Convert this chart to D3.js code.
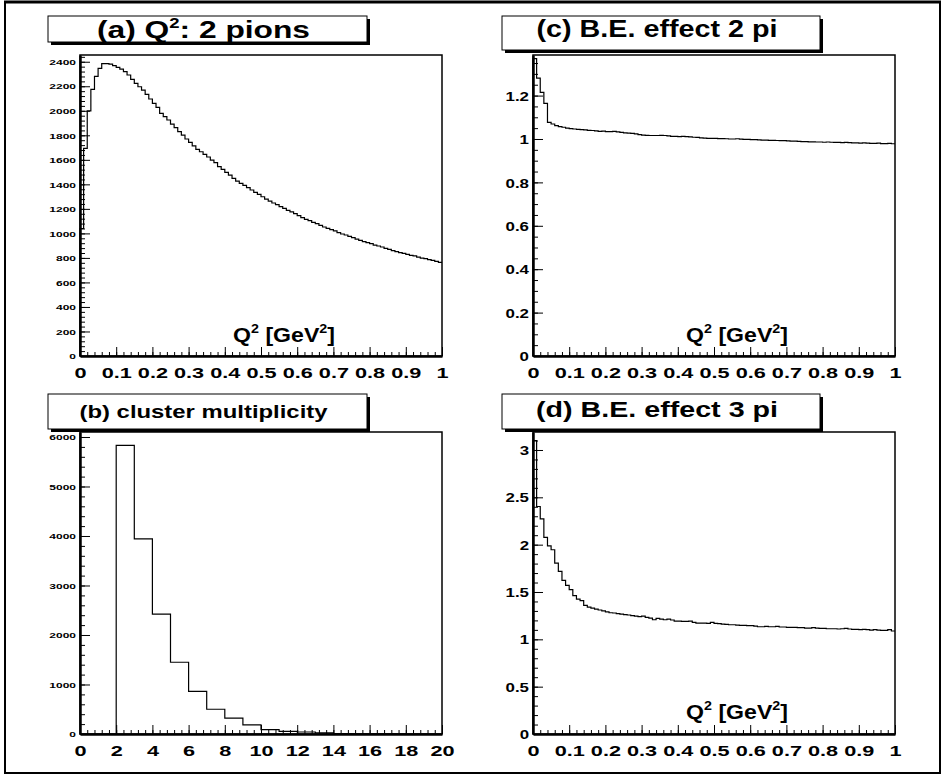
<!DOCTYPE html>
<html>
<head>
<meta charset="utf-8">
<script src="https://cdn.jsdelivr.net/npm/d3@7"></script>
<style>
  body { margin: 0; background: #fff; }
  svg { display: block; }
  text { font-family: "Liberation Sans", Arial, Helvetica, sans-serif; font-weight: bold; }
</style>
</head>
<body>
<div id="chart"></div>
<script>
// (a) Q^2 of pion pairs, 100 bins 0..1
const pionsQ2 = [
  1040, 1694, 2000, 2175, 2281, 2346, 2384, 2384, 2381, 2368,
  2354, 2340, 2319, 2292, 2256, 2224, 2196, 2169, 2134, 2096,
  2061, 2028, 1979, 1952, 1925, 1892, 1862, 1830, 1802, 1770,
  1742, 1713, 1685, 1666, 1645, 1623, 1598, 1577, 1544, 1522,
  1498, 1476, 1449, 1427, 1408, 1392, 1373, 1354, 1335, 1318,
  1299, 1280, 1264, 1248, 1234, 1218, 1204, 1188, 1175, 1161,
  1145, 1128, 1115, 1104, 1090, 1079, 1066, 1052, 1041, 1030,
  1020, 1006, 995, 987, 976, 965, 954, 943, 933, 924,
  916, 905, 897, 889, 878, 870, 859, 851, 843, 837,
  829, 821, 816, 807, 799, 794, 786, 780, 772, 764
];
// (b) cluster multiplicity, bins of width 1 from 0..20
const clusterCounts = [0, 0, 5830, 3940, 2420, 1450, 860, 500, 320, 185, 90, 55, 40, 22, 8, 4, 2, 1, 0, 0];
// (c) B.E. effect 2 pi
const be2pi = [
  1.370, 1.280, 1.215, 1.164, 1.077, 1.069, 1.062, 1.057, 1.054, 1.050,
  1.048, 1.046, 1.044, 1.043, 1.042, 1.040, 1.039, 1.037, 1.035, 1.036,
  1.034, 1.034, 1.035, 1.033, 1.030, 1.028, 1.027, 1.026, 1.024, 1.020,
  1.018, 1.017, 1.016, 1.016, 1.016, 1.017, 1.016, 1.014, 1.012, 1.012,
  1.011, 1.012, 1.011, 1.010, 1.008, 1.007, 1.005, 1.004, 1.003, 1.003,
  1.003, 1.002, 1.002, 1.001, 1.000, 1.000, 1.001, 0.999, 0.998, 0.998,
  0.997, 0.997, 0.996, 0.995, 0.995, 0.994, 0.994, 0.993, 0.992, 0.992,
  0.991, 0.990, 0.990, 0.989, 0.988, 0.988, 0.987, 0.987, 0.986, 0.986,
  0.985, 0.986, 0.985, 0.984, 0.984, 0.983, 0.984, 0.983, 0.982, 0.982,
  0.981, 0.982, 0.981, 0.980, 0.980, 0.981, 0.979, 0.979, 0.980, 0.978
];
// (d) B.E. effect 3 pi
const be3pi = [
  3.100, 2.403, 2.273, 2.076, 1.988, 1.946, 1.805, 1.718, 1.623, 1.570,
  1.524, 1.461, 1.425, 1.408, 1.358, 1.341, 1.330, 1.320, 1.310, 1.300,
  1.290, 1.281, 1.278, 1.271, 1.267, 1.260, 1.257, 1.250, 1.246, 1.239,
  1.246, 1.232, 1.225, 1.207, 1.221, 1.214, 1.207, 1.214, 1.204, 1.193,
  1.193, 1.190, 1.190, 1.193, 1.179, 1.172, 1.172, 1.172, 1.168, 1.179,
  1.168, 1.165, 1.161, 1.158, 1.154, 1.154, 1.151, 1.147, 1.147, 1.144,
  1.144, 1.140, 1.133, 1.133, 1.137, 1.133, 1.133, 1.137, 1.130, 1.130,
  1.126, 1.126, 1.126, 1.123, 1.123, 1.119, 1.119, 1.123, 1.119, 1.116,
  1.116, 1.112, 1.112, 1.112, 1.109, 1.112, 1.116, 1.109, 1.105, 1.105,
  1.102, 1.105, 1.102, 1.098, 1.102, 1.098, 1.095, 1.095, 1.102, 1.088
];

// tick labels
const q2Ticks = [0, 0.1, 0.2, 0.3, 0.4, 0.5, 0.6, 0.7, 0.8, 0.9, 1];
const multTicks = [0, 2, 4, 6, 8, 10, 12, 14, 16, 18, 20];
const pionsYTicks = [0, 200, 400, 600, 800, 1000, 1200, 1400, 1600, 1800, 2000, 2200, 2400];
const clusterYTicks = [0, 1000, 2000, 3000, 4000, 5000, 6000];
const be2YTicks = [0, 0.2, 0.4, 0.6, 0.8, 1, 1.2];
const be3YTicks = [0, 0.5, 1, 1.5, 2, 2.5, 3];

const width = 944, height = 777;
const svg = d3.select('#chart').append('svg')
  .attr('width', width)
  .attr('height', height);

// outer canvas border
svg.append('rect')
  .attr('x', 5).attr('y', 2)
  .attr('width', 935).attr('height', 771)
  .attr('fill', 'none').attr('stroke', '#000').attr('stroke-width', 2);
svg.append('line')
  .attr('x1', 4).attr('x2', 941).attr('y1', 2).attr('y2', 2)
  .attr('stroke', '#000').attr('stroke-width', 3);

const panels = [
  { title: ['(a) Q', '2', ': 2 pions'], box: [48, 16, 319, 26], titleW: 213, titleFont: 24, titleBase: 38,
    left: 80, right: 442, top: 55, bottom: 356,
    xDomain: [0, 1], yMax: 2455, data: pionsQ2, lo: 0, bw: 0.01,
    xTicks: q2Ticks, xMinor: 0.02, yTicks: pionsYTicks, yMinor: 40, yFont: 7.5, yK: 1.6, yEdge: 76,
    axisTitle: [284, 342] },
  { title: ['(b) cluster multiplicity'], box: [48, 394, 319, 35], titleW: 248, titleFont: 18.5, titleBase: 418,
    left: 80, right: 442, top: 432, bottom: 734,
    xDomain: [0, 20], yMax: 6101, data: clusterCounts, lo: 0, bw: 1,
    xTicks: multTicks, xMinor: 0.4, yTicks: clusterYTicks, yMinor: 200, yFont: 7.5, yK: 1.6, yEdge: 76,
    axisTitle: null },
  { title: ['(c) B.E. effect 2 pi'], box: [502, 16, 318, 34], titleW: 241, titleFont: 23, titleBase: 37,
    left: 533, right: 895, top: 55, bottom: 356,
    xDomain: [0, 1], yMax: 1.387, data: be2pi, lo: 0, bw: 0.01,
    xTicks: q2Ticks, xMinor: 0.02, yTicks: be2YTicks, yMinor: 0.05, yFont: 13, yK: 1.3, yEdge: 529,
    axisTitle: [737, 342] },
  { title: ['(d) B.E. effect 3 pi'], box: [502, 394, 318, 35], titleW: 242, titleFont: 22.5, titleBase: 417,
    left: 533, right: 895, top: 432, bottom: 734,
    xDomain: [0, 1], yMax: 3.19, data: be3pi, lo: 0, bw: 0.01,
    xTicks: q2Ticks, xMinor: 0.02, yTicks: be3YTicks, yMinor: 0.1, yFont: 12.5, yK: 1.35, yEdge: 529,
    axisTitle: [737, 719] }
];

panels.forEach(p => {
  const g = svg.append('g');
  const x = d3.scaleLinear().domain(p.xDomain).range([p.left, p.right]);
  const y = d3.scaleLinear().domain([0, p.yMax]).range([p.bottom, p.top]);

  // frame
  g.append('rect')
    .attr('x', p.left).attr('y', p.top)
    .attr('width', p.right - p.left).attr('height', p.bottom - p.top)
    .attr('fill', 'none').attr('stroke', '#000').attr('stroke-width', 1.5);

  // histogram outline
  const pts = [[p.lo, 0]].concat(p.data.map((v, i) => [p.lo + i * p.bw, v]));
  pts.push([p.lo + p.data.length * p.bw, p.data[p.data.length - 1]]);
  g.append('path')
    .datum(pts)
    .attr('fill', 'none')
    .attr('stroke', '#000')
    .attr('stroke-width', 1.2)
    .attr('d', d3.line().x(d => x(d[0])).y(d => y(d[1])).curve(d3.curveStepAfter));

  // minor ticks
  const xMinorVals = d3.range(p.xDomain[0], p.xDomain[1] + 1e-9, p.xMinor);
  g.append('g').attr('transform', `translate(0,${p.bottom})`)
    .call(d3.axisBottom(x).tickValues(xMinorVals).tickSizeInner(-4).tickSizeOuter(0).tickFormat(''))
    .call(a => a.select('.domain').remove());
  const yMinorVals = d3.range(0, p.yMax, p.yMinor);
  g.append('g').attr('transform', `translate(${p.left},0)`)
    .call(d3.axisLeft(y).tickValues(yMinorVals).tickSizeInner(-5).tickSizeOuter(0).tickFormat(''))
    .call(a => a.select('.domain').remove());

  // major x axis
  const xa = g.append('g').attr('transform', `translate(0,${p.bottom})`)
    .call(d3.axisBottom(x).tickValues(p.xTicks).tickSizeInner(-9).tickSizeOuter(0)
      .tickFormat(d3.format('')));
  xa.select('.domain').attr('stroke-width', 2.5);
  xa.selectAll('text').attr('font-size', 15.5).attr('fill', '#000')
    .attr('dy', 0).attr('y', 22).attr('transform', 'scale(1.4,1)');

  // major y axis
  const ya = g.append('g').attr('transform', `translate(${p.left},0)`)
    .call(d3.axisLeft(y).tickValues(p.yTicks).tickSizeInner(-10).tickSizeOuter(0).tickFormat(d3.format('')));
  ya.select('.domain').attr('stroke-width', 2.5);
  ya.selectAll('text').attr('font-size', p.yFont).attr('fill', '#000')
    .attr('x', (p.yEdge - p.left) / p.yK).attr('dy', '0.36em')
    .attr('transform', `scale(${p.yK},1)`);

  // axis title
  if (p.axisTitle) {
    const t = g.append('text')
      .attr('transform', `translate(${p.axisTitle[0]},${p.axisTitle[1]}) scale(1.1,1)`)
      .attr('text-anchor', 'middle').attr('font-size', 21);
    t.append('tspan').text('Q');
    t.append('tspan').attr('font-size', 13).attr('dy', -9).text('2');
    t.append('tspan').attr('dy', 9).text(' [GeV');
    t.append('tspan').attr('font-size', 13).attr('dy', -9).text('2');
    t.append('tspan').attr('dy', 9).text(']');
  }

  // title box with shadow
  const [bx, by, bw, bh] = p.box;
  g.append('rect').attr('x', bx + 3).attr('y', by + 3).attr('width', bw).attr('height', bh).attr('fill', '#000');
  g.append('rect').attr('x', bx).attr('y', by).attr('width', bw).attr('height', bh)
    .attr('fill', '#fff').attr('stroke', '#000').attr('stroke-width', 1);
  const tt = g.append('text')
    .attr('x', bx + bw / 2 - 4).attr('y', p.titleBase)
    .attr('text-anchor', 'middle').attr('font-size', p.titleFont);
  p.title.forEach((s, i) => {
    if (p.title.length === 3 && i === 1) tt.append('tspan').attr('font-size', 14).attr('dy', -10).text(s);
    else if (p.title.length === 3 && i === 2) tt.append('tspan').attr('dy', 10).text(s);
    else tt.append('tspan').text(s);
  });
  tt.attr('textLength', p.titleW).attr('lengthAdjust', 'spacingAndGlyphs');
});
</script>
</body>
</html>
